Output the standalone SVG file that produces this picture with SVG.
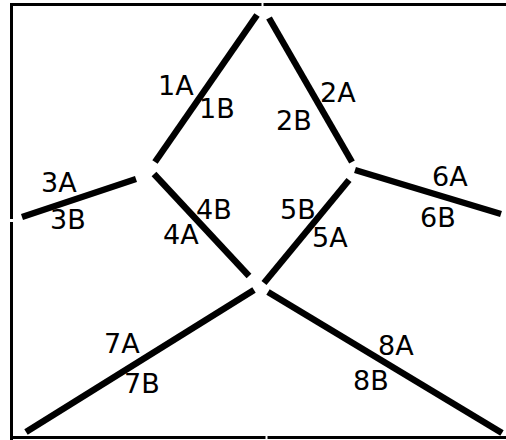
<svg xmlns="http://www.w3.org/2000/svg" width="506" height="440" viewBox="0 0 506 440">
<style>
.f{stroke:#000;stroke-width:3;fill:none}
.e{stroke:#000;stroke-width:6.5;fill:none}
text{font-family:"DejaVu Sans",sans-serif;font-size:27px;fill:#000}
</style>
<rect width="506" height="440" fill="#fff"/>
<g id="frame">
<line class="f" x1="10" y1="4.5" x2="261.5" y2="4.5"/>
<line class="f" x1="263.5" y1="4.5" x2="506" y2="4.5"/>
<line class="f" x1="11.5" y1="3" x2="11.5" y2="219"/>
<line class="f" x1="11.5" y1="222" x2="11.5" y2="440"/>
<line class="f" x1="13" y1="437.5" x2="265.5" y2="437.5"/>
<line class="f" x1="267.5" y1="437.5" x2="506" y2="437.5"/>
</g>
<g id="connectors">
<g id="e1"><line class="e" x1="155" y1="162" x2="257" y2="15"/><text x="158" y="95">1A</text><text x="199" y="118">1B</text></g>
<g id="e2"><line class="e" x1="269" y1="18" x2="352" y2="162"/><text x="320" y="102">2A</text><text x="276" y="130">2B</text></g>
<g id="e3"><line class="e" x1="22" y1="217" x2="136" y2="179"/><text x="41" y="192">3A</text><text x="50" y="229">3B</text></g>
<g id="e4"><line class="e" x1="154" y1="174" x2="249" y2="276"/><text x="163" y="244">4A</text><text x="196" y="219">4B</text></g>
<g id="e5"><line class="e" x1="349" y1="180" x2="264" y2="283"/><text x="312" y="247">5A</text><text x="280" y="219">5B</text></g>
<g id="e6"><line class="e" x1="355" y1="170" x2="501" y2="214"/><text x="432" y="186">6A</text><text x="420" y="227">6B</text></g>
<g id="e7"><line class="e" x1="254" y1="290" x2="26" y2="432"/><text x="104" y="353">7A</text><text x="124" y="393">7B</text></g>
<g id="e8"><line class="e" x1="268" y1="292" x2="502" y2="433"/><text x="378" y="355">8A</text><text x="353" y="390">8B</text></g>
</g>
</svg>
